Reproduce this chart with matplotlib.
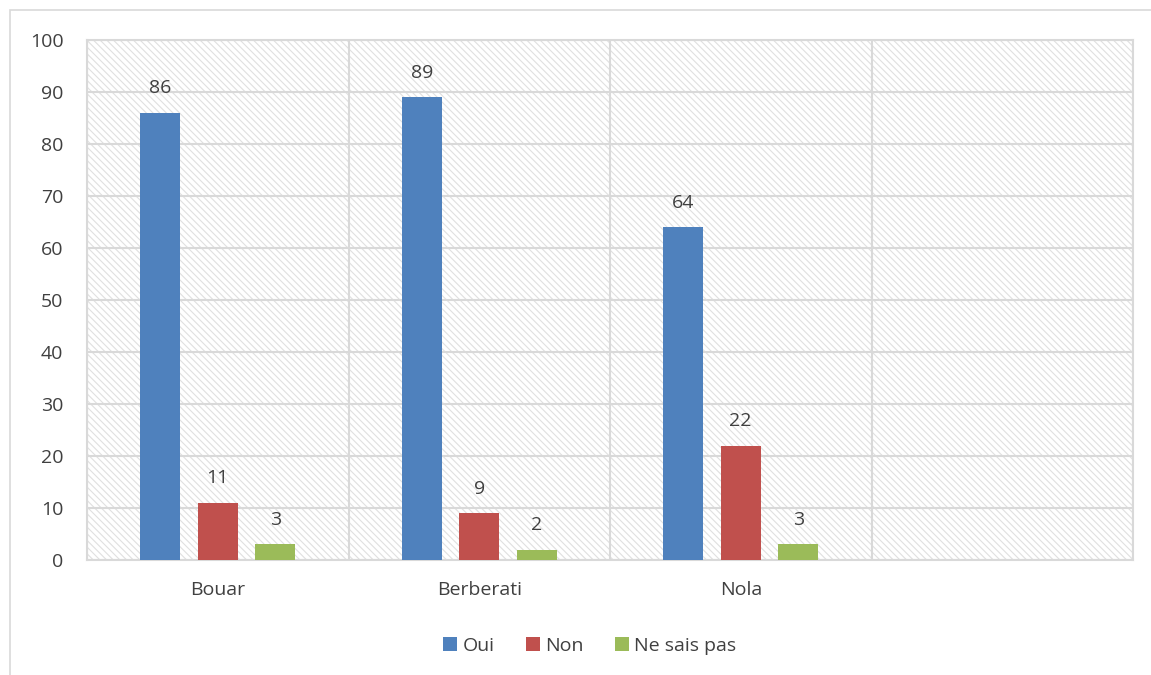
import matplotlib.pyplot as plt
from matplotlib.patches import Rectangle
import numpy as np

plt.rcParams['font.family'] = ['Open Sans', 'DejaVu Sans']
plt.rcParams['hatch.linewidth'] = 0.8

villes = ["Bouar", "Berberati", "Nola", ""]
series = ["Oui", "Non", "Ne sais pas"]
oui = [86, 89, 64]
non = [11, 9, 22]
nsp = [3, 2, 3]
couleurs = ["#4f81bd", "#c0504d", "#9bbb59"]

texte = "#404040"
grille = "#d9d9d9"

fig = plt.figure(figsize=(11.51, 6.75), dpi=100)
ax = fig.add_axes([87/1151, 115/675, 1046/1151, 520/675])

# cadre du graphique
fig.patches.append(Rectangle((10/1151, -0.1), 1.2, (665/675) + 0.1, transform=fig.transFigure,
                             fill=False, edgecolor=grille, linewidth=1.2))

# fond hachuré
ax.add_patch(Rectangle((0, 0), 1, 1, transform=ax.transAxes, fill=False,
                       hatch="\\\\\\\\\\", edgecolor="#e0e0e0", linewidth=0, zorder=0))

x = np.arange(len(oui)) + 0.5
largeur = 0.153
ecart = 0.22
for i, (vals, nom) in enumerate(zip([oui, non, nsp], series)):
    pos = x + (i - 1) * ecart
    ax.bar(pos, vals, largeur, color=couleurs[i], label=nom, zorder=3)
    for p, v in zip(pos, vals):
        ax.text(p, v + 3, str(v), ha="center", va="bottom", fontsize=14, color=texte)

ax.set_xlim(0, 4)
ax.set_ylim(0, 100)
ax.set_yticks(range(0, 101, 10))
ax.set_xticks(np.arange(4) + 0.5)
ax.set_xticklabels(villes)
ax.set_xticks(range(0, 5), minor=True)
ax.tick_params(axis="both", which="both", length=0, labelsize=14, colors=texte)
ax.tick_params(axis="x", pad=15)
ax.tick_params(axis="y", pad=17)
ax.grid(axis="y", color=grille, linewidth=1.5, zorder=1)
ax.grid(axis="x", which="minor", color=grille, linewidth=1.5, zorder=1)
for s in ax.spines.values():
    s.set_color(grille)
    s.set_linewidth(1.5)

ax.legend(loc="center", bbox_to_anchor=(503/1046, -0.165), ncol=3, frameon=False,
          fontsize=14, handlelength=0.7, handleheight=0.7, handletextpad=0.3,
          columnspacing=1.6, labelcolor=texte)

fig.savefig("out.png", dpi=100)
